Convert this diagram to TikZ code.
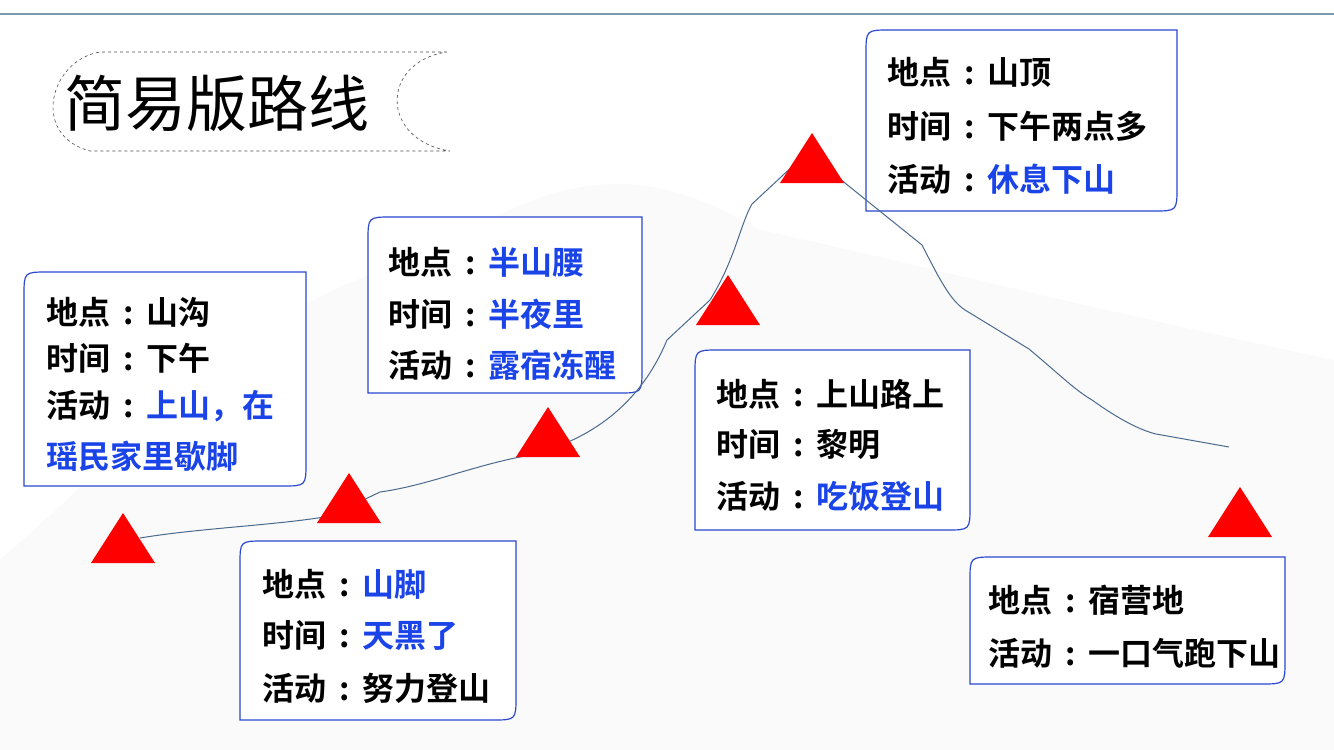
\documentclass[tikz,border=0pt]{standalone}
\usepackage{fontspec}
\newfontfamily\cjk{Noto Sans CJK SC}[BoldFont={Noto Sans CJK SC Bold}]
\definecolor{bl}{HTML}{1A44E8}
\definecolor{bd}{HTML}{2B48D0}
\definecolor{rline}{HTML}{4A6A8E}
\newcommand\cl{\makebox[36pt]{:}}
\begin{document}
\begin{tikzpicture}[x=1pt,y=-1pt,
  txt/.style={anchor=west,inner sep=0pt,font=\cjk\bfseries\fontsize{32}{32}\selectfont},
  tri/.style={fill=red,draw=none}]
\useasboundingbox (0,0) rectangle (1334,750);
\fill[white] (0,0) rectangle (1334,750);
\fill[gray!4] (0,750) -- (0,560) .. controls (150,430) and (250,300) .. (420,260) .. controls (560,170) and (640,160) .. (760,230) .. controls (900,260) and (1050,300) .. (1334,360) -- (1334,750) -- cycle;
\draw[rline!70,line width=1.2] (0,14) -- (1334,14);
% title
\draw[dashed,black!70,line width=0.6] (447,52) -- (100,52) .. controls (50,60) and (30,135) .. (90,151) -- (450,151) .. controls (380,140) and (380,62) .. (447,52);
\node[anchor=west,inner sep=0pt,font=\cjk\fontsize{61}{61}\selectfont] (title) at (64,103) {简易版路线};
% boxes
\newcommand\bx[4]{\draw[bd,line width=1.2,fill=white] (#1,#4) -- (#1,#2+24) .. controls (#1,#2) .. (#1+24,#2) -- (#3,#2) -- (#3,#4-24) .. controls (#3,#4) .. (#3-24,#4) -- cycle;}
\bx{24}{272}{306}{486}
\bx{368}{217}{642}{393}
\bx{240}{541}{516}{720}
\bx{695}{350}{970}{530}
\bx{866}{30}{1177}{211}
\bx{970}{557}{1285}{684}
% route
\draw[rline,line width=1] (140,538) .. controls (200,528) and (280,525) .. (330,516) -- (380,492) .. controls (430,485) and (470,466) .. (530,455) .. controls (590,440) and (640,405) .. (667,340) -- (710,300) .. controls (735,260) and (740,225) .. (752,204) -- (795,164);
\draw[rline,line width=1] (824,166) -- (871,204) -- (922,245) .. controls (940,280) and (950,300) .. (965,310) -- (1029,349) .. controls (1060,375) and (1075,390) .. (1092,400) .. controls (1120,420) and (1140,430) .. (1156,434) -- (1229,447);
\foreach \n/\x/\y in {t1/123/513,t2/349/473,t3/548/407,t4/728/275,t5/812/133,t6/1240/487}{
  \fill[tri] (\x,\y) -- (\x+32,\y+50) -- (\x-32,\y+50) -- cycle;
  \coordinate (\n) at (\x,\y);}
% texts
\node[txt] (a1) at (46,312) {地点\cl 山沟};
\node[txt] (a2) at (46,358) {时间\cl 下午};
\node[txt] (a3) at (46,406) {活动\cl\textcolor{bl}{上山，在}};
\node[txt] (a4) at (46,456) {\textcolor{bl}{瑶民家里歇脚}};
\node[txt] (b1) at (388,262) {地点\cl\textcolor{bl}{半山腰}};
\node[txt] (b2) at (388,314) {时间\cl\textcolor{bl}{半夜里}};
\node[txt] (b3) at (388,365) {活动\cl\textcolor{bl}{露宿冻醒}};
\node[txt] (c1) at (262,584) {地点\cl\textcolor{bl}{山脚}};
\node[txt] (c2) at (262,636) {时间\cl\textcolor{bl}{天黑了}};
\node[txt] (c3) at (262,688) {活动\cl 努力登山};
\node[txt] (d1) at (716,394) {地点\cl 上山路上};
\node[txt] (d2) at (716,444) {时间\cl 黎明};
\node[txt] (d3) at (716,496) {活动\cl\textcolor{bl}{吃饭登山}};
\node[txt] (e1) at (887,72) {地点\cl 山顶};
\node[txt] (e2) at (887,126) {时间\cl 下午两点多};
\node[txt] (e3) at (887,179) {活动\cl\textcolor{bl}{休息下山}};
\node[txt] (f1) at (988,600) {地点\cl 宿营地};
\node[txt] (f2) at (988,653) {活动\cl 一口气跑下山};
\end{tikzpicture}
\end{document}
